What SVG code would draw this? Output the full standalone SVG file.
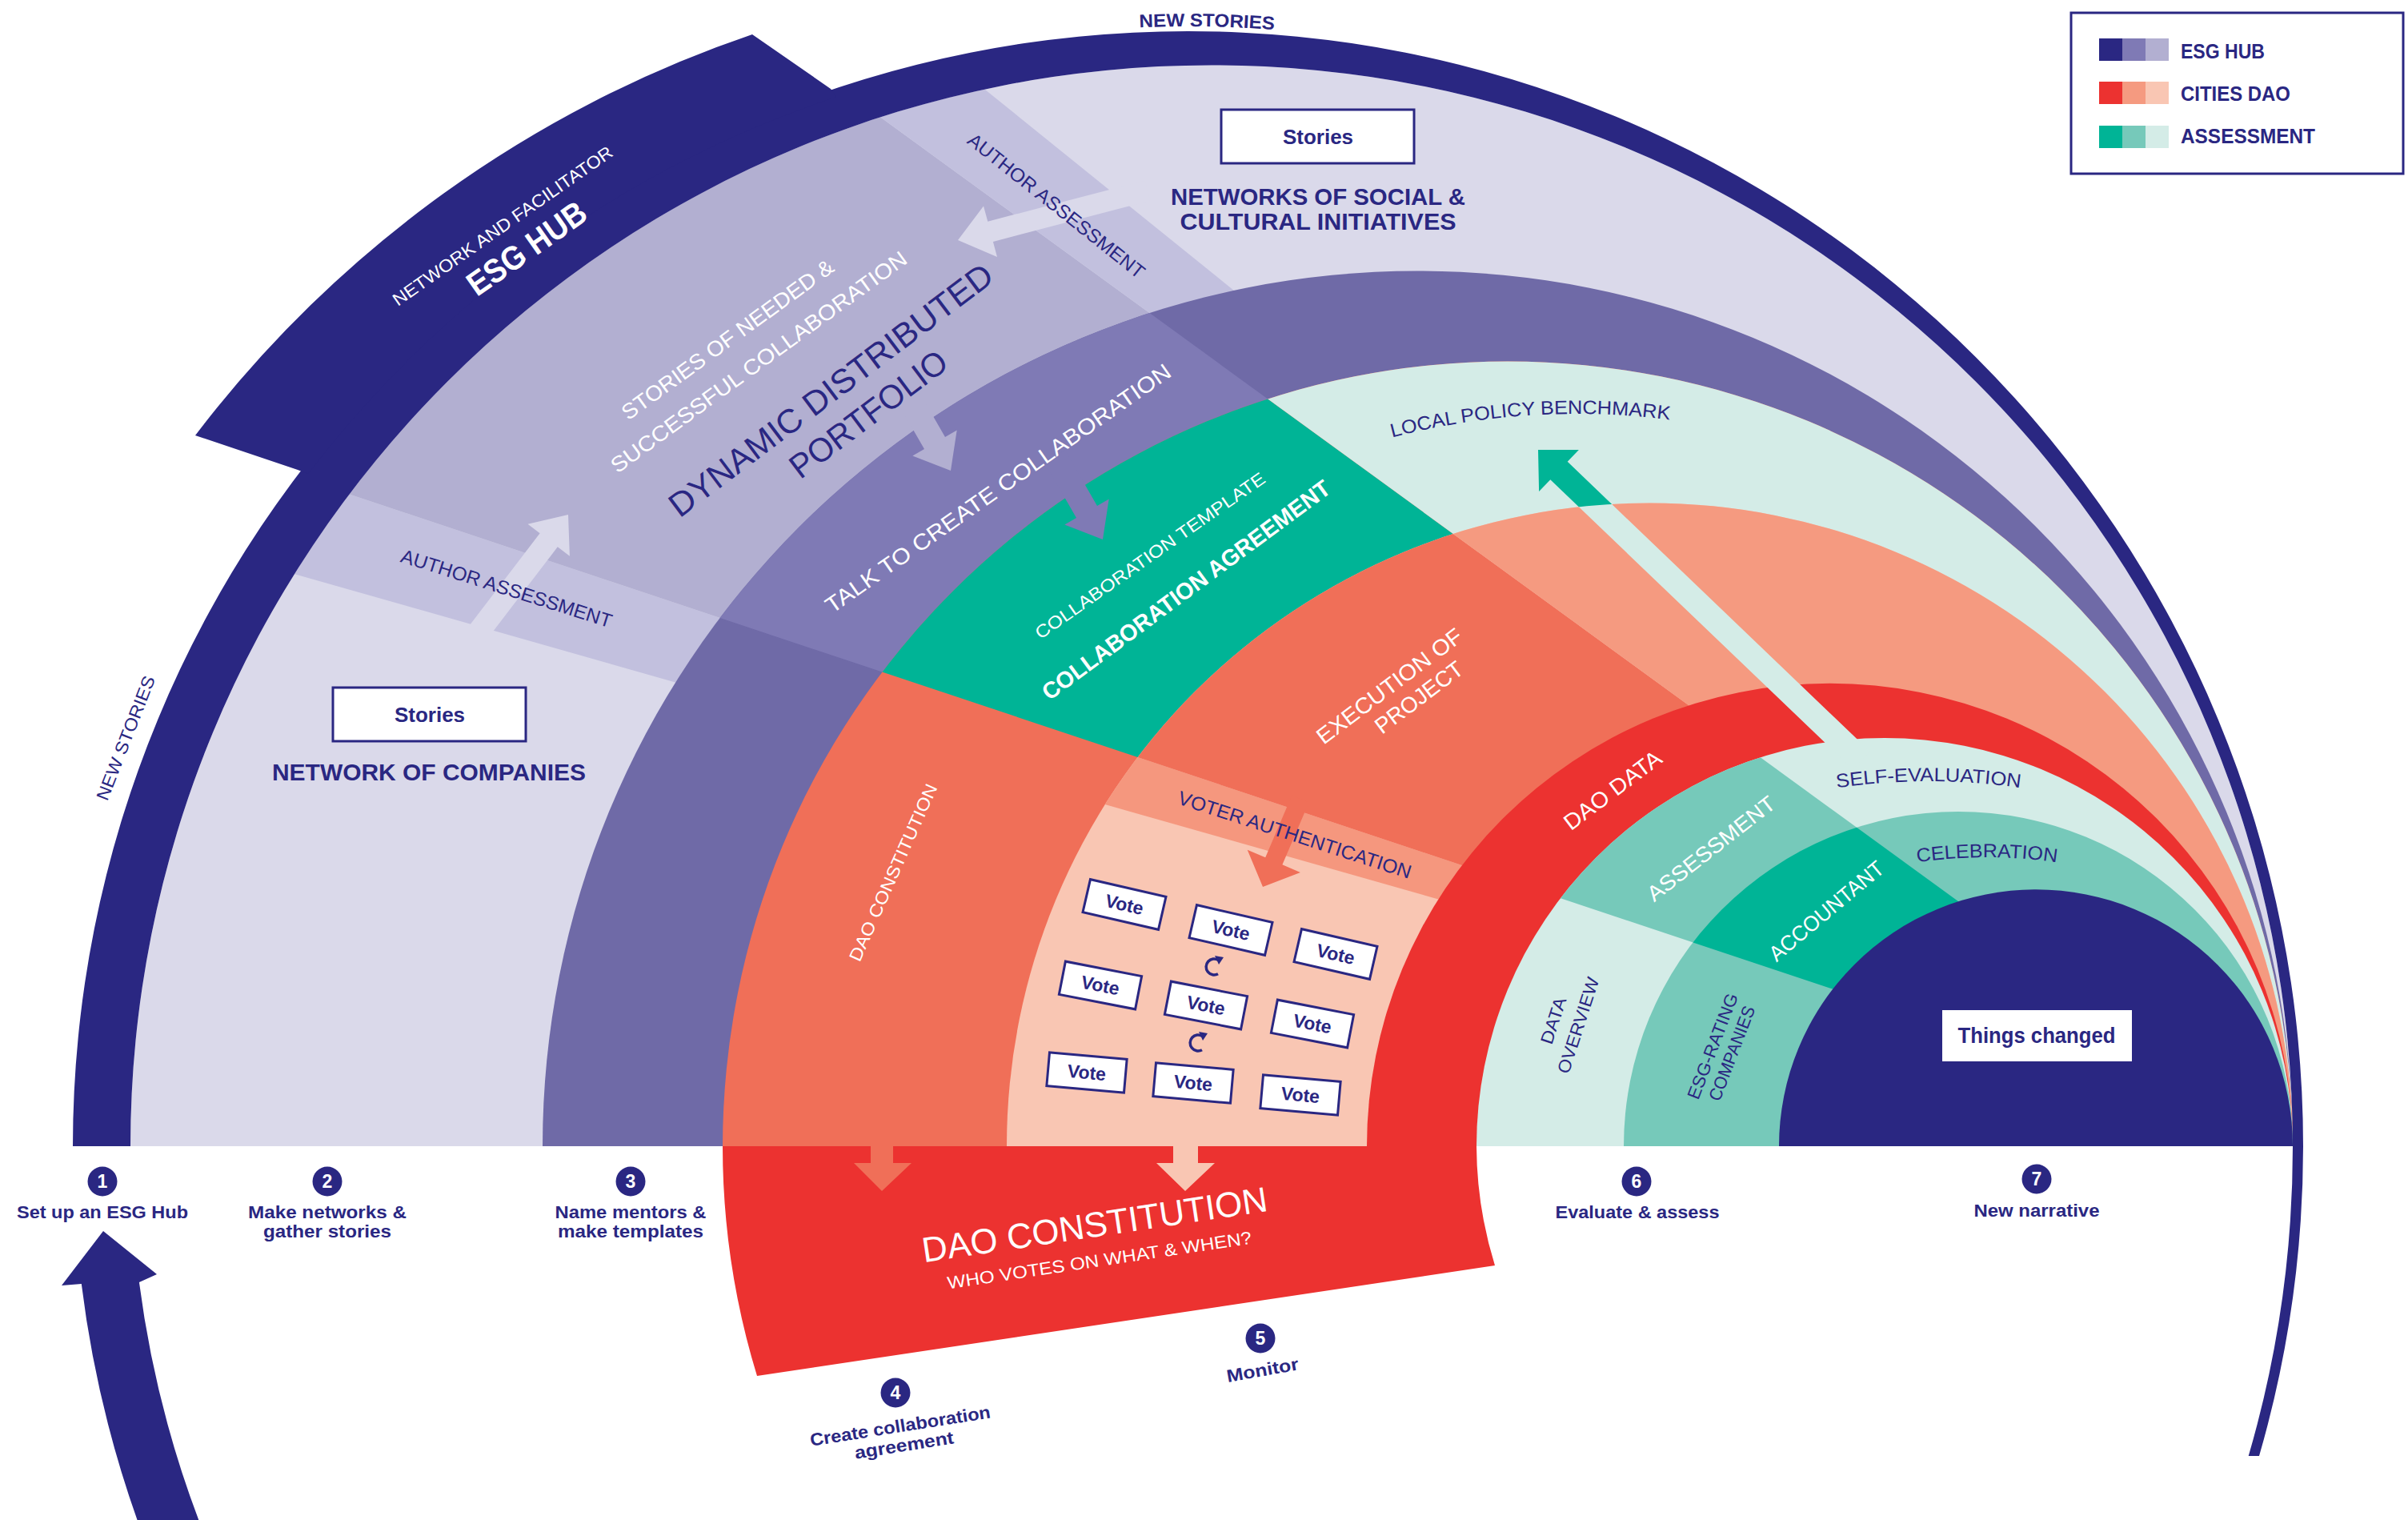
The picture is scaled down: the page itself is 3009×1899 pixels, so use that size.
<svg xmlns="http://www.w3.org/2000/svg" width="3009" height="1899" viewBox="0 0 3009 1899">
<style>
text{font-family:'Liberation Sans',Arial,Helvetica,sans-serif}
.n{fill:#2a2782}
.w{fill:#ffffff}
.b{font-weight:700}
.m{text-anchor:middle}
.bx{fill:#ffffff;stroke:#2a2782;stroke-width:3}
.num{fill:#2a2782}
.cw{fill:none;stroke:#2a2782;stroke-width:3.5}
</style>
<defs>
 <clipPath id="cB"><path d="M163 1432A1351 1351 0 0 1 2865 1432Z"/></clipPath>
 <clipPath id="c2"><path d="M678 1432A1093.5 1093.5 0 0 1 2865 1432Z"/></clipPath>
 <clipPath id="c3"><path d="M903 1432A981 981 0 0 1 2865 1432Z"/></clipPath>
 <clipPath id="c4"><path d="M1258 1432A803.5 803.5 0 0 1 2865 1432Z"/></clipPath>
 <clipPath id="c6"><path d="M1845 1432A510 510 0 0 1 2865 1432Z"/></clipPath>
 <clipPath id="c7"><path d="M2029 1432A418 418 0 0 1 2865 1432Z"/></clipPath>
 <clipPath id="outC4"><path clip-rule="evenodd" d="M0 0H3009V1432H0Z M1258 1432A803.5 803.5 0 0 1 2865 1432Z"/></clipPath>
 <polygon id="wb" points="2858,1425 0,612.5 0,471.9"/>
 <polygon id="wc" points="2858,1425 0,471.9 0,-653.9"/>
 <polygon id="wd" points="2858,1425 0,-653.9 0,-881.4"/>
 <polygon id="wu" points="2858,1425 0,-653.9 0,-2000 3009,-2000 3009,1425"/>
 <path id="pNS" d="M85.5 1432A1399 1399 0 0 1 2883.5 1432"/>
 <path id="pLPB" d="M1055 1432A915 915 0 0 1 2885 1432"/>
 <path id="pSE" d="M2098.5 1039.2A800 800 0 0 1 2721.5 1039.2"/>
 <path id="pCE" d="M2249.4 1118.4A600 600 0 0 1 2716.6 1118.4"/>
</defs>

<!-- rings / bands -->
<g id="band-esg-networks" clip-path="url(#cB)">
 <rect x="0" y="0" width="3009" height="1432" fill="#dad9ea"/>
 <use href="#wb" fill="#c2c0de"/>
 <use href="#wc" fill="#b2afd1"/>
 <use href="#wd" fill="#c2c0de"/>
</g>
<g id="band-talk" clip-path="url(#c2)">
 <rect x="0" y="0" width="3009" height="1432" fill="#6f6aa7"/>
 <use href="#wc" fill="#7f7ab5"/>
</g>
<g id="band-agreement" clip-path="url(#c3)">
 <rect x="0" y="0" width="3009" height="1432" fill="#f06f58"/>
 <use href="#wc" fill="#00b496"/>
 <use href="#wu" fill="#d4ece7"/>
</g>
<g id="band-execution" clip-path="url(#c4)">
 <rect x="0" y="0" width="3009" height="1432" fill="#f9c6b3"/>
 <use href="#wb" fill="#f5977e"/>
 <use href="#wc" fill="#f06f58"/>
 <use href="#wu" fill="#f59a80"/>
</g>
<g id="band-dao-data">
 <path d="M1708 1432A578.5 578.5 0 0 1 2865 1432Z" fill="#ec3230"/>
</g>
<g id="band-assessment" clip-path="url(#c6)">
 <rect x="0" y="0" width="3009" height="1432" fill="#d4ece7"/>
 <use href="#wc" fill="#76c9ba"/>
</g>
<g id="band-accountant" clip-path="url(#c7)">
 <rect x="0" y="0" width="3009" height="1432" fill="#76c9ba"/>
 <use href="#wc" fill="#00b496"/>
</g>
<g id="things-changed">
 <path d="M2223 1432A321 321 0 0 1 2865 1432Z" fill="#2a2782"/>
 <rect x="2427" y="1262" width="237" height="64" fill="#ffffff"/>
 <text class="n b m" x="2545" y="1303" font-size="27" textLength="197" lengthAdjust="spacingAndGlyphs">Things changed</text>
</g>

<g id="esg-hub-ring" fill="#2a2782">
 <path d="M91 1432A1393.5 1393.5 0 0 1 2878 1432L2865 1432A1351 1351 0 0 0 163 1432Z"/>
 <path d="M372 587L244 544A1466.8 1466.8 0 0 1 940 43L1038 111L1045 121A1380 1380 0 0 0 385 592Z"/>
 <path d="M2878 1432A1393.5 1393.5 0 0 1 2823 1819L2809.7 1819A1380.5 1380.5 0 0 0 2865 1432Z"/>
 <path d="M175.5 1910A1393.5 1393.5 0 0 1 101.8 1604L77 1606L129 1538L196 1592L173.9 1602A1321.5 1321.5 0 0 0 252.5 1910Z"/>
</g>

<g id="dao-constitution">
 <path d="M903 1432A981 981 0 0 0 946 1719L1868 1581A510 510 0 0 1 1845 1432Z" fill="#ec3230"/>
 <text class="w m" font-size="44" transform="translate(1370 1545) rotate(-8.5)" textLength="436" lengthAdjust="spacingAndGlyphs">DAO CONSTITUTION</text>
 <text class="w m" font-size="22" transform="translate(1375 1582) rotate(-8.5)" textLength="384" lengthAdjust="spacingAndGlyphs">WHO VOTES ON WHAT &amp; WHEN?</text>
</g>

<!-- connectors / arrows -->
<g id="connectors">
 <polygon fill="#dad9ea" points="578.9,791.5 674.6,666.3 659.5,654.8 710,643 711.9,694.8 696.8,683.3 601.1,808.5"/>
 <polygon fill="#dad9ea" points="1430.7,225.4 1234.3,276.7 1229,257.4 1197,300 1246,321 1240.9,301.9 1437.3,250.6"/>
 <polygon fill="#b2afd1" points="1141,476.6 1181,545.9 1195.7,537.4 1188,588 1140.3,569.4 1155,560.9 1115,491.6"/>
 <polygon fill="#7f7ab5" points="1331,562.6 1371,631.9 1385.7,623.4 1378,674 1330.3,655.4 1345,646.9 1305,577.6"/>
 <polygon fill="#d4ece7" points="1922,562 1972.9,562 1958.7,576.8 2336.7,938.8 2315.3,961.2 1937.3,599.2 1923.1,614"/>
 <polygon fill="#00b496" clip-path="url(#outC4)" points="1922,562 1972.9,562 1958.7,576.8 2336.7,938.8 2315.3,961.2 1937.3,599.2 1923.1,614"/>
 <polygon fill="#f06f58" points="1614.4,993.5 1635.6,1002.5 1602.4,1080.3 1624.9,1090 1578,1108 1558.7,1061.7 1581.2,1071.3"/>
 <path fill="#f06f58" d="M1088 1428H1116V1453H1139L1102 1488L1067 1453H1088Z"/>
 <path fill="#f9c6b3" d="M1466 1428H1497V1453H1518L1481 1488L1445 1453H1466Z"/>
</g>

<!-- band labels -->
<g id="labels-esg">
 <text class="w m" font-size="22" transform="translate(628 282) rotate(-35)" dy="0.35em" textLength="330" lengthAdjust="spacingAndGlyphs">NETWORK AND FACILITATOR</text>
 <text class="w b m" font-size="42" transform="translate(658 310) rotate(-35)" dy="0.35em" textLength="172" lengthAdjust="spacingAndGlyphs">ESG HUB</text>
 <text class="w m" font-size="27" transform="translate(909 424) rotate(-36)" dy="0.35em" textLength="320" lengthAdjust="spacingAndGlyphs">STORIES OF NEEDED &amp;</text>
 <text class="w m" font-size="27" transform="translate(948 452) rotate(-36)" dy="0.35em" textLength="450" lengthAdjust="spacingAndGlyphs">SUCCESSFUL COLLABORATION</text>
 <text class="n m" font-size="42" transform="translate(1038 487) rotate(-37)" dy="0.35em" textLength="495" lengthAdjust="spacingAndGlyphs">DYNAMIC DISTRIBUTED</text>
 <text class="n m" font-size="42" transform="translate(1085 517) rotate(-37)" dy="0.35em" textLength="235" lengthAdjust="spacingAndGlyphs">PORTFOLIO</text>
 <text class="n m" font-size="24" transform="translate(633 735) rotate(17.5)" dy="0.35em" textLength="275" lengthAdjust="spacingAndGlyphs">AUTHOR ASSESSMENT</text>
 <text class="n m" font-size="24" transform="translate(1320 257) rotate(38.5)" dy="0.35em" textLength="275" lengthAdjust="spacingAndGlyphs">AUTHOR ASSESSMENT</text>
 <text class="n m" font-size="22" transform="translate(157 922) rotate(-68.5)" dy="0.35em" textLength="165" lengthAdjust="spacingAndGlyphs">NEW STORIES</text>
 <text class="n b m" font-size="23"><textPath href="#pNS" startOffset="2221" textLength="169" lengthAdjust="spacingAndGlyphs">NEW STORIES</textPath></text>
</g>
<g id="node-stories-companies">
 <rect class="bx" x="416" y="859" width="241" height="67"/>
 <text class="n b m" x="537" y="902" font-size="26">Stories</text>
 <text class="n b m" x="536" y="975" font-size="30" textLength="392" lengthAdjust="spacingAndGlyphs">NETWORK OF COMPANIES</text>
</g>
<g id="node-stories-social">
 <rect class="bx" x="1526" y="137" width="241" height="67"/>
 <text class="n b m" x="1647" y="180" font-size="26">Stories</text>
 <text class="n b m" x="1647" y="256" font-size="30" textLength="368" lengthAdjust="spacingAndGlyphs">NETWORKS OF SOCIAL &amp;</text>
 <text class="n b m" x="1647" y="287" font-size="30" textLength="345" lengthAdjust="spacingAndGlyphs">CULTURAL INITIATIVES</text>
</g>
<g id="labels-inner">
 <text class="w m" font-size="28" transform="translate(1247 610) rotate(-35)" dy="0.35em" textLength="520" lengthAdjust="spacingAndGlyphs">TALK TO CREATE COLLABORATION</text>
 <text class="w m" font-size="22" transform="translate(1437 694) rotate(-35)" dy="0.35em" textLength="345" lengthAdjust="spacingAndGlyphs">COLLABORATION TEMPLATE</text>
 <text class="w b m" font-size="29" transform="translate(1482 737) rotate(-36.5)" dy="0.35em" textLength="440" lengthAdjust="spacingAndGlyphs">COLLABORATION AGREEMENT</text>
 <text class="w m" font-size="22" transform="translate(1116 1090) rotate(-66)" dy="0.35em" textLength="240" lengthAdjust="spacingAndGlyphs">DAO CONSTITUTION</text>
 <text class="w m" font-size="28" transform="translate(1736 857) rotate(-37)" dy="0.35em" textLength="220" lengthAdjust="spacingAndGlyphs">EXECUTION OF</text>
 <text class="w m" font-size="28" transform="translate(1773 871) rotate(-37)" dy="0.35em" textLength="130" lengthAdjust="spacingAndGlyphs">PROJECT</text>
 <text class="n m" font-size="24" transform="translate(1618 1043) rotate(18)" dy="0.35em" textLength="305" lengthAdjust="spacingAndGlyphs">VOTER AUTHENTICATION</text>
 <text class="w m" font-size="28" transform="translate(2015 987) rotate(-37)" dy="0.35em" textLength="145" lengthAdjust="spacingAndGlyphs">DAO DATA</text>
 <text class="w m" font-size="27" transform="translate(2138 1060) rotate(-38)" dy="0.35em" textLength="195" lengthAdjust="spacingAndGlyphs">ASSESSMENT</text>
 <text class="w m" font-size="27" transform="translate(2282 1138) rotate(-40)" dy="0.35em" textLength="178" lengthAdjust="spacingAndGlyphs">ACCOUNTANT</text>
 <text class="n m" font-size="22" transform="translate(1941 1275) rotate(-72)" dy="0.35em" textLength="60" lengthAdjust="spacingAndGlyphs">DATA</text>
 <text class="n m" font-size="22" transform="translate(1972 1281) rotate(-72)" dy="0.35em" textLength="125" lengthAdjust="spacingAndGlyphs">OVERVIEW</text>
 <text class="n m" font-size="22" transform="translate(2140 1307) rotate(-69)" dy="0.35em" textLength="140" lengthAdjust="spacingAndGlyphs">ESG-RATING</text>
 <text class="n m" font-size="22" transform="translate(2164 1316) rotate(-69)" dy="0.35em" textLength="125" lengthAdjust="spacingAndGlyphs">COMPANIES</text>
 <text class="n m" font-size="24"><textPath href="#pLPB" startOffset="1379" textLength="350" lengthAdjust="spacingAndGlyphs">LOCAL POLICY BENCHMARK</textPath></text>
 <text class="n m" font-size="24"><textPath href="#pSE" startOffset="50%" textLength="230" lengthAdjust="spacingAndGlyphs">SELF-EVALUATION</textPath></text>
 <text class="n m" font-size="24"><textPath href="#pCE" startOffset="50%" textLength="175" lengthAdjust="spacingAndGlyphs">CELEBRATION</textPath></text>
</g>

<!-- votes -->
<g id="votes">
 <g transform="translate(1405 1130) rotate(13)"><rect class="bx" x="-48.5" y="-21" width="97" height="42"/><text class="n b m" y="8" font-size="23">Vote</text></g>
 <g transform="translate(1538 1162) rotate(13)"><rect class="bx" x="-48.5" y="-21" width="97" height="42"/><text class="n b m" y="8" font-size="23">Vote</text></g>
 <g transform="translate(1669 1192) rotate(13)"><rect class="bx" x="-48.5" y="-21" width="97" height="42"/><text class="n b m" y="8" font-size="23">Vote</text></g>
 <g transform="translate(1375 1231) rotate(11)"><rect class="bx" x="-48.5" y="-21" width="97" height="42"/><text class="n b m" y="8" font-size="23">Vote</text></g>
 <g transform="translate(1507 1256) rotate(11)"><rect class="bx" x="-48.5" y="-21" width="97" height="42"/><text class="n b m" y="8" font-size="23">Vote</text></g>
 <g transform="translate(1640 1279) rotate(11)"><rect class="bx" x="-48.5" y="-21" width="97" height="42"/><text class="n b m" y="8" font-size="23">Vote</text></g>
 <g transform="translate(1358 1340) rotate(5)"><rect class="bx" x="-48.5" y="-21" width="97" height="42"/><text class="n b m" y="8" font-size="23">Vote</text></g>
 <g transform="translate(1491 1353) rotate(5)"><rect class="bx" x="-48.5" y="-21" width="97" height="42"/><text class="n b m" y="8" font-size="23">Vote</text></g>
 <g transform="translate(1625 1368) rotate(5)"><rect class="bx" x="-48.5" y="-21" width="97" height="42"/><text class="n b m" y="8" font-size="23">Vote</text></g>
 <g transform="translate(1517 1208)"><path class="cw" d="M5.5 -8.5A10 10 0 1 0 5 8.7"/><polygon fill="#2a2782" points="1,-14 12,-12 6,-3"/></g>
 <g transform="translate(1497 1303)"><path class="cw" d="M5.5 -8.5A10 10 0 1 0 5 8.7"/><polygon fill="#2a2782" points="1,-14 12,-12 6,-3"/></g>
</g>

<!-- steps -->
<g id="step-1"><circle class="num" cx="128" cy="1476" r="18.5"/><text class="w b m" x="128" y="1484" font-size="23">1</text><text class="n b m" x="128" y="1522" font-size="22" textLength="214" lengthAdjust="spacingAndGlyphs">Set up an ESG Hub</text></g>
<g id="step-2"><circle class="num" cx="409" cy="1476" r="18.5"/><text class="w b m" x="409" y="1484" font-size="23">2</text><text class="n b m" x="409" y="1522" font-size="22" textLength="198" lengthAdjust="spacingAndGlyphs">Make networks &amp;</text><text class="n b m" x="409" y="1546" font-size="22" textLength="160" lengthAdjust="spacingAndGlyphs">gather stories</text></g>
<g id="step-3"><circle class="num" cx="788" cy="1476" r="18.5"/><text class="w b m" x="788" y="1484" font-size="23">3</text><text class="n b m" x="788" y="1522" font-size="22" textLength="189" lengthAdjust="spacingAndGlyphs">Name mentors &amp;</text><text class="n b m" x="788" y="1546" font-size="22" textLength="182" lengthAdjust="spacingAndGlyphs">make templates</text></g>
<g id="step-4"><circle class="num" cx="1119" cy="1740" r="18.5"/><text class="w b m" x="1119" y="1748" font-size="23">4</text><text class="n b m" font-size="22" transform="translate(1126 1789) rotate(-9)" textLength="228" lengthAdjust="spacingAndGlyphs">Create collaboration</text><text class="n b m" font-size="22" transform="translate(1131 1813) rotate(-9)" textLength="125" lengthAdjust="spacingAndGlyphs">agreement</text></g>
<g id="step-5"><circle class="num" cx="1575" cy="1672" r="18.5"/><text class="w b m" x="1575" y="1680" font-size="23">5</text><text class="n b m" font-size="22" transform="translate(1579 1719) rotate(-10)" textLength="91" lengthAdjust="spacingAndGlyphs">Monitor</text></g>
<g id="step-6"><circle class="num" cx="2045" cy="1476" r="18.5"/><text class="w b m" x="2045" y="1484" font-size="23">6</text><text class="n b m" x="2046" y="1522" font-size="22" textLength="205" lengthAdjust="spacingAndGlyphs">Evaluate &amp; assess</text></g>
<g id="step-7"><circle class="num" cx="2545" cy="1473" r="18.5"/><text class="w b m" x="2545" y="1481" font-size="23">7</text><text class="n b m" x="2545" y="1520" font-size="22" textLength="157" lengthAdjust="spacingAndGlyphs">New narrative</text></g>

<!-- legend -->
<g id="legend">
 <rect x="2588" y="16" width="415" height="201" fill="#ffffff" stroke="#2a2782" stroke-width="3"/>
 <rect x="2623" y="48" width="29" height="28" fill="#2a2782"/><rect x="2652" y="48" width="29" height="28" fill="#7f7ab5"/><rect x="2681" y="48" width="29" height="28" fill="#b2afd1"/>
 <rect x="2623" y="102" width="29" height="28" fill="#ec3230"/><rect x="2652" y="102" width="29" height="28" fill="#f59a80"/><rect x="2681" y="102" width="29" height="28" fill="#f9c6b3"/>
 <rect x="2623" y="157" width="29" height="28" fill="#00b496"/><rect x="2652" y="157" width="29" height="28" fill="#76c9ba"/><rect x="2681" y="157" width="29" height="28" fill="#d4ece7"/>
 <text class="n b" x="2725" y="73" font-size="26" textLength="105" lengthAdjust="spacingAndGlyphs">ESG HUB</text>
 <text class="n b" x="2725" y="126" font-size="26" textLength="137" lengthAdjust="spacingAndGlyphs">CITIES DAO</text>
 <text class="n b" x="2725" y="179" font-size="26" textLength="168" lengthAdjust="spacingAndGlyphs">ASSESSMENT</text>
</g>
</svg>
